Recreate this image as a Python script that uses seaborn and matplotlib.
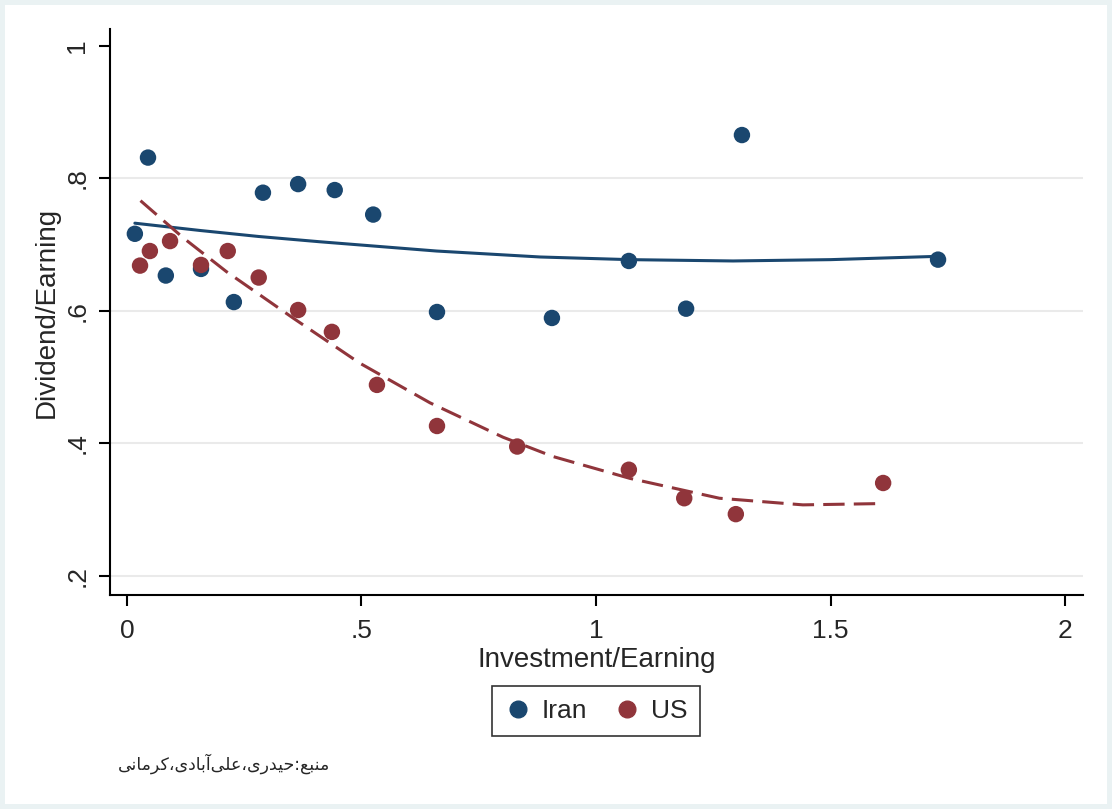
import numpy as np
import pandas as pd
import seaborn as sns
import matplotlib.pyplot as plt
from matplotlib.patches import Rectangle

# values
iran_x = [0.017, 0.045, 0.083, 0.158, 0.228, 0.290, 0.365, 0.443, 0.525, 0.661, 0.906, 1.070, 1.192, 1.311, 1.729]
iran_y = [0.716, 0.831, 0.653, 0.663, 0.613, 0.778, 0.791, 0.782, 0.745, 0.598, 0.589, 0.675, 0.603, 0.865, 0.677]
us_x = [0.028, 0.049, 0.092, 0.158, 0.215, 0.281, 0.365, 0.437, 0.533, 0.661, 0.832, 1.070, 1.188, 1.298, 1.612]
us_y = [0.668, 0.690, 0.705, 0.669, 0.690, 0.650, 0.601, 0.568, 0.488, 0.426, 0.395, 0.360, 0.317, 0.293, 0.340]

# quadratic fit lines (stata qfit)
iran_fit_x = [0.017, 0.156, 0.280, 0.411, 0.660, 0.881, 1.072, 1.292, 1.500, 1.729]
iran_fit_y = [0.732, 0.721, 0.712, 0.704, 0.690, 0.681, 0.677, 0.675, 0.677, 0.682]
us_fit_x = [0.029, 0.120, 0.212, 0.354, 0.496, 0.646, 0.802, 0.908, 1.072, 1.263, 1.441, 1.612]
us_fit_y = [0.766, 0.710, 0.659, 0.589, 0.521, 0.461, 0.409, 0.380, 0.347, 0.317, 0.307, 0.309]

x_ticks = [0, 0.5, 1, 1.5, 2]
x_tick_labels = ['0', '.5', '1', '1.5', '2']
y_ticks = [0.2, 0.4, 0.6, 0.8, 1.0]
y_tick_labels = ['.2', '.4', '.6', '.8', '1']

source_note = 'منبع:حیدری،علی\u200cآبادی،کرمانی'

NAVY = '#1a476f'
MAROON = '#90353b'

# presentation forms: (isolated, final, initial, medial); None = no such form
FORMS = {
    'م': ('\ufee1', '\ufee2', '\ufee3', '\ufee4'),
    'ن': ('\ufee5', '\ufee6', '\ufee7', '\ufee8'),
    'ب': ('\ufe8f', '\ufe90', '\ufe91', '\ufe92'),
    'ع': ('\ufec9', '\ufeca', '\ufecb', '\ufecc'),
    'ح': ('\ufea1', '\ufea2', '\ufea3', '\ufea4'),
    'ل': ('\ufedd', '\ufede', '\ufedf', '\ufee0'),
    'ی': ('\ufeef', '\ufef0', '\ufef3', '\ufef4'),
    'ک': ('\ufed9', '\ufeda', '\ufedb', '\ufedc'),
    'د': ('\ufea9', '\ufeaa', None, None),
    'ر': ('\ufead', '\ufeae', None, None),
    'ا': ('\ufe8d', '\ufe8e', None, None),
    'آ': ('\ufe81', '\ufe82', None, None),
}


def shape_rtl(text):
    # crude arabic shaping + reversal, matplotlib has no bidi support
    chars = list(text)
    out = []
    for i, ch in enumerate(chars):
        if ch not in FORMS:
            if ch != '\u200c':
                out.append(ch)
            continue
        forms = FORMS[ch]
        prev = chars[i - 1] if i > 0 else None
        nxt = chars[i + 1] if i + 1 < len(chars) else None
        joins_prev = prev in FORMS and FORMS[prev][2] is not None
        joins_next = nxt in FORMS and forms[2] is not None
        if joins_prev and joins_next:
            out.append(forms[3])
        elif joins_prev:
            out.append(forms[1])
        elif joins_next:
            out.append(forms[2])
        else:
            out.append(forms[0])
    return ''.join(reversed(out))


df = pd.concat([
    pd.DataFrame({'inv': iran_x, 'div': iran_y, 'country': 'Iran'}),
    pd.DataFrame({'inv': us_x, 'div': us_y, 'country': 'US'}),
])

sns.set_theme(style='white')
plt.rcParams['font.family'] = ['Liberation Sans', 'DejaVu Sans']

fig = plt.figure(figsize=(11.12, 8.09), dpi=100)
fig.patch.set_facecolor('#eaf2f3')
fig.patches.append(Rectangle((5 / 1112, 5 / 809), 1 - 10 / 1112, 1 - 10 / 809,
                             transform=fig.transFigure, facecolor='white',
                             edgecolor='none', zorder=-10))
ax = fig.add_axes([110 / 1112, 1 - 595 / 809, 973 / 1112, 566 / 809])
ax.set_facecolor('white')

for y in [0.2, 0.4, 0.6, 0.8]:
    ax.axhline(y, color='#eaeaea', lw=1.5, zorder=0)

sns.scatterplot(data=df, x='inv', y='div', hue='country',
                palette={'Iran': NAVY, 'US': MAROON}, s=140,
                edgecolor='none', legend=False, ax=ax, zorder=3)

sns.lineplot(x=iran_fit_x, y=iran_fit_y, color=NAVY, lw=2.2, ax=ax,
             zorder=2, sort=False)
sns.lineplot(x=us_fit_x, y=us_fit_y, color=MAROON, lw=2.2,
             linestyle=(0, (7, 3)), ax=ax, zorder=2, sort=False)

ax.set_xlim(-0.036, 2.038)
ax.set_ylim(0.171, 1.025)
ax.set_xticks(x_ticks)
ax.set_xticklabels(x_tick_labels, fontsize=19)
ax.set_yticks(y_ticks)
ax.set_yticklabels(y_tick_labels, fontsize=19, rotation=90, va='center')
ax.tick_params(axis='both', direction='out', length=8, width=1.5,
               color='black', left=True, bottom=True)
ax.tick_params(axis='x', pad=9)
ax.tick_params(axis='y', pad=7)
for side in ['top', 'right']:
    ax.spines[side].set_visible(False)
for side in ['left', 'bottom']:
    ax.spines[side].set_color('black')
    ax.spines[side].set_linewidth(1.5)

ax.set_xlabel('Investment/Earning', fontsize=20, labelpad=3)
ax.set_ylabel('Dividend/Earning', fontsize=20, labelpad=4)

handles = [plt.Line2D([], [], marker='o', ls='none', color=NAVY, markersize=12),
           plt.Line2D([], [], marker='o', ls='none', color=MAROON, markersize=12)]
leg = fig.legend(handles, ['Iran', 'US'], loc='center',
                 bbox_to_anchor=(596 / 1112, 1 - 711 / 809), ncol=2,
                 fontsize=19, frameon=True, fancybox=False, handletextpad=0.4,
                 columnspacing=1.0, borderpad=0.5, handlelength=1.0)
leg.get_frame().set_edgecolor('black')
leg.get_frame().set_linewidth(1.2)

fig.text(330 / 1112, 1 - 764 / 809, shape_rtl(source_note), ha='right',
         va='center', fontsize=12.5, family=['DejaVu Sans'])

fig.savefig('out.png', dpi=100, facecolor=fig.get_facecolor())
